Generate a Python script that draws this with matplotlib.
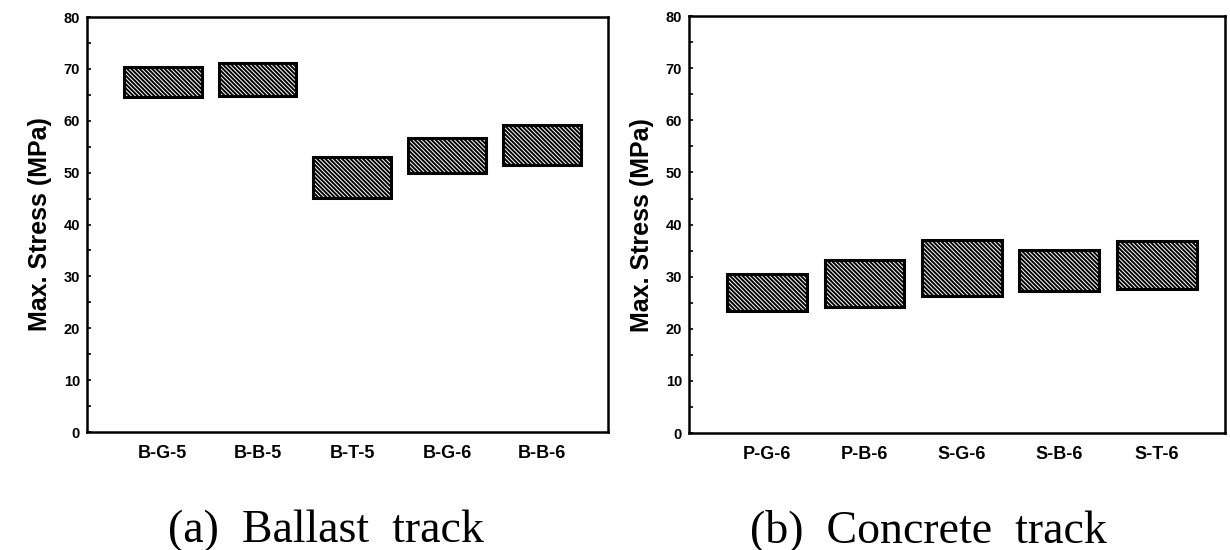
import matplotlib
matplotlib.use("Agg")
import matplotlib.pyplot as plt
from matplotlib.ticker import MultipleLocator

# Ballast track: stress range (min / max) for each case
ballast_cases = ["B-G-5", "B-B-5", "B-T-5", "B-G-6", "B-B-6"]
ballast_low = [64.6, 64.8, 45.1, 49.9, 51.5]
ballast_high = [70.3, 71.1, 53.0, 56.7, 59.1]

# Concrete track: stress range (min / max) for each case
concrete_cases = ["P-G-6", "P-B-6", "S-G-6", "S-B-6", "S-T-6"]
concrete_low = [23.5, 24.1, 26.3, 27.2, 27.6]
concrete_high = [30.5, 33.2, 37.1, 35.1, 36.9]

y_ticks = [0, 10, 20, 30, 40, 50, 60, 70, 80]
y_label = "Max. Stress (MPa)"
captions = ["(a)  Ballast  track", "(b)  Concrete  track"]

plt.rcParams["hatch.linewidth"] = 1.4
sans = ["Liberation Sans", "DejaVu Sans"]
serif = ["Liberation Serif", "DejaVu Serif"]

fig = plt.figure(figsize=(12.3, 5.5), dpi=100)
ax_a = fig.add_axes([0.0707, 0.2145, 0.4236, 0.7545])
ax_b = fig.add_axes([0.5602, 0.2127, 0.4358, 0.7580])


def draw_panel(ax, cases, low, high):
    pos = list(range(1, len(cases) + 1))
    heights = [h - l for l, h in zip(low, high)]
    ax.bar(pos, heights, bottom=low, width=0.82, facecolor="white",
           edgecolor="black", linewidth=2.2, hatch="\\" * 8, zorder=3)
    ax.set_xlim(0.2, 5.7)
    ax.set_ylim(0, 80)
    ax.set_xticks(pos)
    ax.set_xticklabels(cases, fontfamily=sans, fontweight="bold", fontsize=13)
    ax.tick_params(axis="x", length=0, pad=9)
    ax.set_yticks(y_ticks)
    ax.set_yticklabels([str(t) for t in y_ticks], fontfamily=sans,
                       fontweight="bold", fontsize=10.5)
    ax.yaxis.set_minor_locator(MultipleLocator(5))
    ax.tick_params(axis="y", which="both", direction="in", length=3,
                   width=1.2, pad=5)
    ax.set_ylabel(y_label, fontfamily=sans, fontweight="bold", fontsize=18,
                  labelpad=8)
    for s in ax.spines.values():
        s.set_linewidth(1.8)


draw_panel(ax_a, ballast_cases, ballast_low, ballast_high)
draw_panel(ax_b, concrete_cases, concrete_low, concrete_high)

fig.text(326 / 1230, 1 - 542 / 550, captions[0], fontfamily=serif,
         fontsize=33, ha="center", va="baseline")
fig.text(928 / 1230, 1 - 542 / 550, captions[1], fontfamily=serif,
         fontsize=33, ha="center", va="baseline")

fig.savefig("out.png", dpi=100)
